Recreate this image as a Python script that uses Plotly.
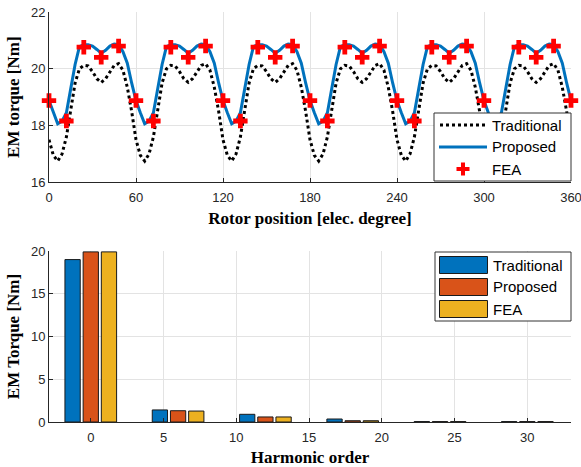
import plotly.graph_objects as go

# ---------------- data ----------------
rotor_pos = list(range(0, 361, 3))

torque_traditional = [
    17.5, 16.95, 16.75, 17.0, 17.6, 18.6, 19.5, 20.0, 20.12, 20.1, 19.9, 19.65, 19.52, 19.65, 19.9, 20.12, 20.18, 19.95, 19.35, 18.5,
    17.5, 16.95, 16.75, 17.0, 17.6, 18.6, 19.5, 20.0, 20.12, 20.1, 19.9, 19.65, 19.52, 19.65, 19.9, 20.12, 20.18, 19.95, 19.35, 18.5,
    17.5, 16.95, 16.75, 17.0, 17.6, 18.6, 19.5, 20.0, 20.12, 20.1, 19.9, 19.65, 19.52, 19.65, 19.9, 20.12, 20.18, 19.95, 19.35, 18.5,
    17.5, 16.95, 16.75, 17.0, 17.6, 18.6, 19.5, 20.0, 20.12, 20.1, 19.9, 19.65, 19.52, 19.65, 19.9, 20.12, 20.18, 19.95, 19.35, 18.5,
    17.5, 16.95, 16.75, 17.0, 17.6, 18.6, 19.5, 20.0, 20.12, 20.1, 19.9, 19.65, 19.52, 19.65, 19.9, 20.12, 20.18, 19.95, 19.35, 18.5,
    17.5, 16.95, 16.75, 17.0, 17.6, 18.6, 19.5, 20.0, 20.12, 20.1, 19.9, 19.65, 19.52, 19.65, 19.9, 20.12, 20.18, 19.95, 19.35, 18.5,
    17.5,
]
torque_proposed = [
    18.88, 18.45, 18.06, 18.15, 18.45, 19.3, 20.15, 20.78, 20.85, 20.85, 20.8, 20.68, 20.55, 20.65, 20.8, 20.87, 20.85, 20.6, 20.2, 19.5,
    18.88, 18.45, 18.06, 18.15, 18.45, 19.3, 20.15, 20.78, 20.85, 20.85, 20.8, 20.68, 20.55, 20.65, 20.8, 20.87, 20.85, 20.6, 20.2, 19.5,
    18.88, 18.45, 18.06, 18.15, 18.45, 19.3, 20.15, 20.78, 20.85, 20.85, 20.8, 20.68, 20.55, 20.65, 20.8, 20.87, 20.85, 20.6, 20.2, 19.5,
    18.88, 18.45, 18.06, 18.15, 18.45, 19.3, 20.15, 20.78, 20.85, 20.85, 20.8, 20.68, 20.55, 20.65, 20.8, 20.87, 20.85, 20.6, 20.2, 19.5,
    18.88, 18.45, 18.06, 18.15, 18.45, 19.3, 20.15, 20.78, 20.85, 20.85, 20.8, 20.68, 20.55, 20.65, 20.8, 20.87, 20.85, 20.6, 20.2, 19.5,
    18.88, 18.45, 18.06, 18.15, 18.45, 19.3, 20.15, 20.78, 20.85, 20.85, 20.8, 20.68, 20.55, 20.65, 20.8, 20.87, 20.85, 20.6, 20.2, 19.5,
    18.88,
]

fea_pos = [0, 12, 24, 36, 48, 60, 72, 84, 96, 108, 120, 132, 144, 156, 168, 180,
           192, 204, 216, 228, 240, 252, 264, 276, 288, 300, 312, 324, 336, 348, 360]
torque_fea = [
    18.88, 18.16, 20.76, 20.40, 20.80,
    18.88, 18.16, 20.76, 20.40, 20.80,
    18.88, 18.16, 20.76, 20.40, 20.80,
    18.88, 18.16, 20.76, 20.40, 20.80,
    18.88, 18.16, 20.76, 20.40, 20.80,
    18.88, 18.16, 20.76, 20.40, 20.80,
    18.88,
]

harmonic_order = [0, 6, 12, 18, 24, 30]
harm_traditional = [19.0, 1.41, 0.90, 0.35, 0.05, 0.05]
harm_proposed = [19.9, 1.32, 0.59, 0.15, 0.05, 0.05]
harm_fea = [19.9, 1.28, 0.59, 0.15, 0.05, 0.05]

series_names = ["Traditional", "Proposed", "FEA"]

x_ticks_top = [0, 60, 120, 180, 240, 300, 360]
y_ticks_top = [16, 18, 20, 22]
x_ticks_bot = [0, 5, 10, 15, 20, 25, 30]
y_ticks_bot = [0, 5, 10, 15, 20]

# ---------------- styling ----------------
BLUE = "#0072BD"
ORANGE = "#D95319"
YELLOW = "#EDB120"
AX = "#262626"
GRID = "#e3e3e3"
SANS = "Liberation Sans, Arial, sans-serif"
TICKFONT = dict(family=SANS, size=13, color=AX)
TITLEFONT = dict(family="Liberation Serif, Times New Roman, serif", size=17, color="black")
LEGFONT = dict(family=SANS, size=15, color="black")

W, H = 581, 467
ml, mr, mt, mb = 49, 10, 12, 45
pw, ph = W - ml - mr, H - mt - mb


def px2paper_x(px):
    return (px - ml) / pw


def px2paper_y(py):
    return (H - mb - py) / ph


fig = go.Figure()

fig.add_trace(go.Scatter(x=rotor_pos, y=torque_traditional, mode="lines", name=series_names[0],
                         showlegend=False,
                         line=dict(color="black", width=3, dash="dot"), xaxis="x", yaxis="y"))
fig.add_trace(go.Scatter(x=rotor_pos, y=torque_proposed, mode="lines", name=series_names[1],
                         showlegend=False,
                         line=dict(color=BLUE, width=3), xaxis="x", yaxis="y"))
fig.add_trace(go.Scatter(x=fea_pos, y=torque_fea, mode="markers", name=series_names[2],
                         showlegend=False,
                         marker=dict(symbol="cross", color="red", size=12, line=dict(width=0)),
                         xaxis="x", yaxis="y", cliponaxis=False))

bar_line = dict(color="#1a1a1a", width=1)
bar_colors = [BLUE, ORANGE, YELLOW]
for name, vals, col in zip(series_names, [harm_traditional, harm_proposed, harm_fea], bar_colors):
    fig.add_trace(go.Bar(x=harmonic_order, y=vals, name=name, showlegend=False,
                         marker=dict(color=col, line=bar_line), xaxis="x2", yaxis="y2"))

axis_common = dict(showline=True, linecolor=AX, linewidth=1, mirror=False,
                   showgrid=True, gridcolor=GRID, gridwidth=1, zeroline=False,
                   ticks="inside", ticklen=4, tickcolor=AX, tickfont=TICKFONT,
                   automargin=False, ticklabeloverflow="allow")

shapes = []
annotations = []

# ---- top legend (lines + FEA cross) ----
shapes.append(dict(type="rect", xref="paper", yref="paper",
                   x0=px2paper_x(434), x1=px2paper_x(571),
                   y0=px2paper_y(181), y1=px2paper_y(113),
                   line=dict(color="#333333", width=1), fillcolor="white", layer="above"))
top_rows = [125, 147, 169]
shapes.append(dict(type="line", xref="paper", yref="paper",
                   x0=px2paper_x(440), x1=px2paper_x(487),
                   y0=px2paper_y(top_rows[0]), y1=px2paper_y(top_rows[0]),
                   line=dict(color="black", width=3, dash="dot"), layer="above"))
shapes.append(dict(type="line", xref="paper", yref="paper",
                   x0=px2paper_x(439), x1=px2paper_x(487),
                   y0=px2paper_y(top_rows[1]), y1=px2paper_y(top_rows[1]),
                   line=dict(color=BLUE, width=3), layer="above"))
cx, cy = 463, top_rows[2]
a, t = 6.5, 2.0   # arm half-length, half-thickness (px)
pts = [(cx - t, cy - a), (cx + t, cy - a), (cx + t, cy - t), (cx + a, cy - t), (cx + a, cy + t),
       (cx + t, cy + t), (cx + t, cy + a), (cx - t, cy + a), (cx - t, cy + t), (cx - a, cy + t),
       (cx - a, cy - t), (cx - t, cy - t)]
path = "M " + " L ".join(f"{px2paper_x(px):.5f},{px2paper_y(py):.5f}" for px, py in pts) + " Z"
shapes.append(dict(type="path", xref="paper", yref="paper", path=path,
                   fillcolor="red", line=dict(width=0), layer="above"))
for name, ry in zip(series_names, top_rows):
    annotations.append(dict(xref="paper", yref="paper", x=px2paper_x(489.5), y=px2paper_y(ry),
                            xanchor="left", yanchor="middle", text=name, showarrow=False,
                            font=LEGFONT))

# ---- bottom legend (wide colour swatches) ----
shapes.append(dict(type="rect", xref="paper", yref="paper",
                   x0=px2paper_x(435), x1=px2paper_x(571),
                   y0=px2paper_y(321), y1=px2paper_y(252),
                   line=dict(color="#333333", width=1), fillcolor="white", layer="above"))
for i, (name, col) in enumerate(zip(series_names, bar_colors)):
    ry = 265 + 22 * i
    shapes.append(dict(type="rect", xref="paper", yref="paper",
                       x0=px2paper_x(439.5), x1=px2paper_x(487.5),
                       y0=px2paper_y(ry + 8.5), y1=px2paper_y(ry - 8.5),
                       line=dict(color="#1a1a1a", width=1), fillcolor=col, layer="above"))
    annotations.append(dict(xref="paper", yref="paper", x=px2paper_x(490.5), y=px2paper_y(ry),
                            xanchor="left", yanchor="middle", text=name, showarrow=False,
                            font=LEGFONT))

fig.update_layout(
    width=W, height=H,
    margin=dict(l=ml, r=mr, t=mt, b=mb),
    paper_bgcolor="white", plot_bgcolor="white",
    barmode="group", bargap=0.375, bargroupgap=0.16,
    showlegend=False,
    xaxis=dict(domain=[0, 1], anchor="y", range=[0, 360], tickvals=x_ticks_top,
               title=dict(text="<b>Rotor position [elec. degree]</b>", font=TITLEFONT, standoff=8),
               ticklabelstandoff=3, **axis_common),
    yaxis=dict(domain=[0.5846, 1], anchor="x", range=[16, 22], tickvals=y_ticks_top,
               title=dict(text="<b>EM torque [Nm]</b>", font=TITLEFONT, standoff=6),
               **axis_common),
    xaxis2=dict(domain=[0, 1], anchor="y2", range=[-2.87, 33], tickvals=x_ticks_bot,
                title=dict(text="<b>Harmonic order</b>", font=TITLEFONT, standoff=8),
                ticklabelstandoff=3, **axis_common),
    yaxis2=dict(domain=[0, 0.417], anchor="x2", range=[0, 20], tickvals=y_ticks_bot,
                title=dict(text="<b>EM Torque [Nm]</b>", font=TITLEFONT, standoff=6),
                **axis_common),
    shapes=shapes,
    annotations=annotations,
)

fig.write_html("out.html", config={"displayModeBar": False},
               post_script="document.body.style.margin='0px';document.body.style.overflow='hidden';")
